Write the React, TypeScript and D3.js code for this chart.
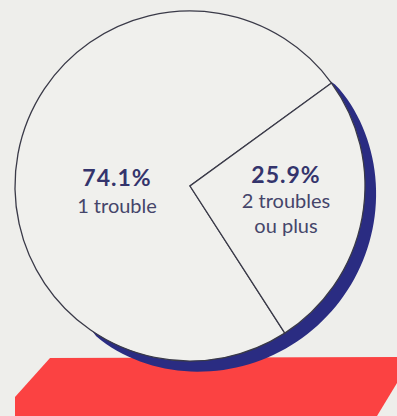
import React from "react";
import * as d3 from "d3";

const categories = ["1 trouble", "2 troubles ou plus"];
const values = [74.1, 25.9];
const percentLabels = ["74.1%", "25.9%"];
const subLabels = [["1 trouble"], ["2 troubles", "ou plus"]];

const W = 397;
const H = 416;

export default function App() {
  const cx = 190;
  const cy = 186;
  const R = 175;
  const deg = Math.PI / 180;
  const start = 147.2 * deg;

  const pie = d3
    .pie<number>()
    .sort(null)
    .startAngle(start)
    .endAngle(start + 2 * Math.PI);
  const arcs = pie(values);
  const arcGen = d3.arc<d3.PieArcDatum<number>>().innerRadius(0).outerRadius(R);

  // shadow crescent along the small slice side
  const a0 = 53 * deg;
  const a1 = 214 * deg;
  const n = 80;
  const outerPts: [number, number][] = d3.range(n + 1).map((i) => {
    const a = a0 + ((a1 - a0) * i) / n;
    const t = Math.pow(Math.sin((Math.PI * i) / n), 0.6);
    return [a, R + 14 * t];
  });
  const innerPts: [number, number][] = d3.range(n + 1).map((i) => {
    const a = a1 - ((a1 - a0) * i) / n;
    return [a, R - 1];
  });
  const radial = d3.lineRadial<[number, number]>().angle((d) => d[0]).radius((d) => d[1]);
  const shadowPath = radial([...outerPts, ...innerPts]) + "Z";

  const x = d3.scaleLinear().domain([0, 1]).range([0, W]);
  const y = d3.scaleLinear().domain([0, 1]).range([0, H]);
  const redPts: [number, number][] = [
    [50, 358],
    [397, 357],
    [397, 383],
    [377, 416],
    [15, 416],
    [15, 397],
  ];
  const redPath = d3.line()(redPts.map(([px, py]) => [x(px / W), y(py / H)]));

  const labelPos = [
    { x: 117, y1: 186, y2: 213, dy: 0 },
    { x: 286, y1: 183, y2: 208, dy: 25 },
  ];

  return (
    <svg
      width={W}
      height={H}
      style={{ position: "absolute", left: 0, top: 0, background: "#eeeeeb" }}
    >
      <rect width={W} height={H} fill="#eeeeeb" />
      <path d={redPath || ""} fill="#fb4242" />
      <g transform={`translate(${cx},${cy})`}>
        <path d={shadowPath} fill="#2a2c82" />
        {arcs.map((a, i) => (
          <path
            key={categories[i]}
            d={arcGen(a) || ""}
            fill="#f0f0ed"
            stroke="#3a3a48"
            strokeWidth={1.3}
            strokeLinejoin="miter"
          />
        ))}
      </g>
      {arcs.map((a, i) => (
        <g key={"l" + i} fontFamily="Lato, 'Open Sans', sans-serif" textAnchor="middle">
          <text
            x={labelPos[i].x}
            y={labelPos[i].y1}
            fontSize={23}
            fontWeight={700}
            letterSpacing={1}
            fill="#34346c"
          >
            {percentLabels[i]}
          </text>
          {subLabels[i].map((s, j) => (
            <text
              key={s}
              x={labelPos[i].x}
              y={labelPos[i].y2 + j * labelPos[i].dy}
              fontSize={20}
              fontWeight={400}
              fill="#45456a"
            >
              {s}
            </text>
          ))}
        </g>
      ))}
    </svg>
  );
}
